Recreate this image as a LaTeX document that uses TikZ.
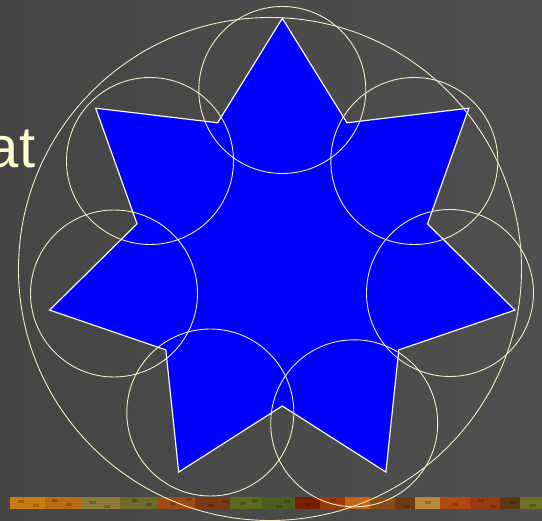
\documentclass[tikz,border=0pt]{standalone}
\usepackage{fontspec}
\setmainfont{Liberation Sans}
\definecolor{bgL}{HTML}{454545}
\definecolor{bgR}{HTML}{4F4F4F}
\definecolor{cream}{HTML}{EEEEC4}
\definecolor{starline}{HTML}{F6F6E6}
\definecolor{titletext}{HTML}{FFFFCC}
\definecolor{starblue}{HTML}{0000FF}
\tikzset{
  ring/.style={draw=cream, line width=0.9pt},
  starshape/.style={fill=starblue, draw=starline, line width=1.2pt, line join=miter},
  stripseg/.style={draw=none},
}
\begin{document}
\begin{tikzpicture}[x=1pt,y=-1pt]
\useasboundingbox (0,0) rectangle (542,521);
\shade[left color=bgL, right color=bgR] (0,0) rectangle (542,521);
% textured strip
\foreach \a/\b/\c in {10/45/C87C10, 45/82/B86A14, 82/120/8C7A3A, 120/157/6E6A2C, 157/195/A04A14, 195/230/7A3A10, 230/262/5E6A22, 262/295/4E5E1E, 295/320/7A1E06, 320/345/9A3A0A, 345/370/C86418, 370/395/8A4A18, 395/415/6E3A14, 415/440/B88A40, 440/470/B04812, 470/500/9A3A10, 500/520/5A3A12, 520/542/6E7424}{
  \definecolor{segc}{HTML}{\c}
  \fill[stripseg, fill=segc] (\a,497.3) rectangle (\b,509.3);
}
\foreach \x/\y in {18/500, 33/504, 52/499, 66/503, 90/501, 104/505, 132/499, 146/503, 170/502, 186/498, 208/504, 222/500, 240/502, 252/499, 276/505, 284/500, 305/503, 330/499, 356/504, 380/500, 404/505, 425/501, 452/503, 478/499, 490/505, 510/501, 530/504}{
  \fill[stripseg, fill=black, fill opacity=0.22] (\x,\y) rectangle ++(6,3);
}
% star
\coordinate (T0) at (282.3,18.3);
\coordinate (I0) at (346.95,122.76);
\coordinate (T1) at (468.9,108.2);
\coordinate (I1) at (427.56,223.85);
\coordinate (T2) at (515.0,310.1);
\coordinate (I2) at (398.79,349.9);
\coordinate (T3) at (385.9,472.1);
\coordinate (I3) at (282.3,406);
\coordinate (T4) at (178.7,472.1);
\coordinate (I4) at (165.81,349.9);
\coordinate (T5) at (49.6,310.1);
\coordinate (I5) at (137.04,223.85);
\coordinate (T6) at (95.7,108.2);
\coordinate (I6) at (217.65,122.76);
\draw[starshape] (T0) -- (I0) -- (T1) -- (I1) -- (T2) -- (I2) -- (T3) -- (I3)
  -- (T4) -- (I4) -- (T5) -- (I5) -- (T6) -- (I6) -- cycle;
% small circles
\coordinate (C0) at (282.3,90);
\coordinate (C1) at (414.3,161);
\coordinate (C2) at (450,293);
\coordinate (C3) at (354.2,423.3);
\coordinate (C4) at (210.3,412.5);
\coordinate (C5) at (114,293.5);
\coordinate (C6) at (150,161);
\foreach \k in {0,...,6}{
  \draw[ring] (C\k) circle[radius=83.5];
}
% outer circle
\coordinate (CO) at (270,269);
\draw[ring] (CO) circle[radius=251.5];
% partial title text (cut at the left edge, as in the reference)
\node[anchor=base east, inner sep=0pt, text=titletext,
  font=\fontsize{58}{60}\selectfont] (title) at (35.5,168) {at};
\end{tikzpicture}
\end{document}
